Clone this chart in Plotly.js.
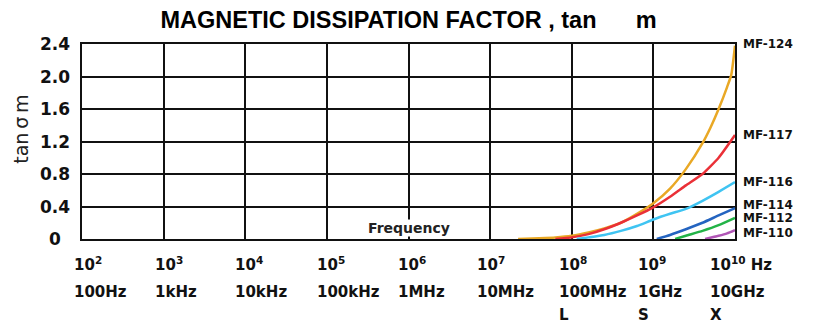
<!DOCTYPE html>
<html>
<head>
<meta charset="utf-8">
<script src="https://cdn.plot.ly/plotly-3.0.1.min.js"></script>
<style>
  html, body { margin: 0; padding: 0; background: #fff; }
  #chart { width: 813px; height: 323px; }
</style>
</head>
<body>
<div id="chart"></div>
<script>
// Material names
const materials = ['MF-124', 'MF-117', 'MF-116', 'MF-114', 'MF-112', 'MF-110'];

// Frequency (Hz) and tan δm for each material
const freqMF124 = [2.2e7, 4e7, 6.3e7, 1e8, 1.6e8, 2.5e8, 4e8, 6.3e8, 1e9, 1.6e9, 2.5e9, 4e9, 5e9, 6.3e9, 8e9, 9e9, 1e10];
const tanMF124  = [0, 0.01, 0.02, 0.04, 0.08, 0.13, 0.2, 0.31, 0.44, 0.62, 0.86, 1.18, 1.37, 1.6, 1.87, 2.02, 2.38];

const freqMF117 = [6.3e7, 1e8, 1.6e8, 2.5e8, 4e8, 6.3e8, 1e9, 1.6e9, 2.5e9, 4e9, 6.3e9, 1e10];
const tanMF117  = [0, 0.02, 0.06, 0.12, 0.2, 0.29, 0.39, 0.52, 0.66, 0.8, 1.0, 1.28];

const freqMF116 = [1.15e8, 1.6e8, 2.5e8, 4e8, 6.3e8, 1e9, 1.6e9, 2.5e9, 4e9, 6.3e9, 1e10];
const tanMF116  = [0, 0.02, 0.05, 0.1, 0.16, 0.24, 0.31, 0.37, 0.47, 0.58, 0.70];

const freqMF114 = [1.1e9, 1.6e9, 2.5e9, 4e9, 6.3e9, 1e10];
const tanMF114  = [0, 0.05, 0.12, 0.2, 0.29, 0.38];

const freqMF112 = [1.85e9, 2.5e9, 4e9, 6.3e9, 1e10];
const tanMF112  = [0, 0.04, 0.1, 0.17, 0.26];

const freqMF110 = [4.3e9, 6.3e9, 8e9, 1e10];
const tanMF110  = [0, 0.04, 0.07, 0.11];

// Axis labelling
const yTicks = [0, 0.4, 0.8, 1.2, 1.6, 2.0, 2.4];
const yTickText = ['0', '0.4', '0.8', '1.2', '1.6', '2.0', '2.4'];
const decades = [2, 3, 4, 5, 6, 7, 8, 9, 10];
const decadeText = ['10<sup>2</sup>', '10<sup>3</sup>', '10<sup>4</sup>', '10<sup>5</sup>', '10<sup>6</sup>',
                    '10<sup>7</sup>', '10<sup>8</sup>', '10<sup>9</sup>', '10<sup>10</sup> Hz'];
const unitText = ['100Hz', '1kHz', '10kHz', '100kHz', '1MHz', '10MHz', '100MHz', '1GHz', '10GHz'];
const bandText = ['', '', '', '', '', '', 'L', 'S', 'X'];

const series = [
  [freqMF124, tanMF124],
  [freqMF117, tanMF117],
  [freqMF116, tanMF116],
  [freqMF114, tanMF114],
  [freqMF112, tanMF112],
  [freqMF110, tanMF110]
];

// Styling
const colors = ['#E9A825', '#EA3037', '#3FC4F2', '#2464C0', '#22B347', '#B055B5'];
const labelY = [2.4, 1.28, 0.70, 0.42, 0.26, 0.07];
const labelShift = [-10, -11, -12, -12, -13, -15, -15, -17, -27];

const traces = series.map((s, i) => ({
  x: s[0],
  y: s[1],
  type: 'scatter',
  mode: 'lines',
  line: { color: colors[i], width: 2.5, shape: 'spline', smoothing: 0.5 },
  cliponaxis: false,
  hoverinfo: 'skip',
  showlegend: false
}));

const annotations = [];
const labelFont = { family: 'DejaVu Sans', size: 15, color: '#111', weight: 'bold' };

yTicks.forEach((v, i) => annotations.push({
  xref: 'paper', yref: 'y', x: 0, y: v, xshift: -27, xanchor: 'center', yanchor: 'middle',
  text: yTickText[i], showarrow: false,
  font: { family: 'DejaVu Sans', size: 17, color: '#111', weight: 'bold' }
}));

decades.forEach((d, i) => {
  annotations.push({
    xref: 'x', yref: 'paper', x: d, y: 0, yshift: -25, xshift: labelShift[i],
    xanchor: 'left', yanchor: 'middle', text: decadeText[i], showarrow: false, font: labelFont
  });
  annotations.push({
    xref: 'x', yref: 'paper', x: d, y: 0, yshift: -53, xshift: labelShift[i],
    xanchor: 'left', yanchor: 'middle', text: unitText[i], showarrow: false, font: labelFont
  });
  if (bandText[i]) {
    annotations.push({
      xref: 'x', yref: 'paper', x: d, y: 0, yshift: -76, xshift: labelShift[i],
      xanchor: 'left', yanchor: 'middle', text: bandText[i], showarrow: false, font: labelFont
    });
  }
});

materials.forEach((m, i) => annotations.push({
  xref: 'paper', yref: 'y', x: 1, y: labelY[i], xshift: 6, xanchor: 'left', yanchor: 'middle',
  text: m, showarrow: false,
  font: { family: 'DejaVu Sans', size: 12, color: '#111', weight: 'bold' }
}));

annotations.push({
  xref: 'x', yref: 'paper', x: 6, y: 0, yshift: 11, xanchor: 'center', yanchor: 'middle',
  text: 'Frequency', showarrow: false, bgcolor: '#fff', borderpad: 0,
  font: { family: 'DejaVu Sans', size: 14, color: '#222', weight: 'bold' }
});

annotations.push({
  xref: 'paper', yref: 'paper', x: 0, y: 0.56, xshift: -61, xanchor: 'center', yanchor: 'middle',
  text: 'tan\u2009σ\u2009m', textangle: -90, showarrow: false,
  font: { family: 'DejaVu Sans', size: 19, color: '#222' }
});

const axisCommon = {
  showgrid: true, gridcolor: '#111', gridwidth: 2,
  showline: true, linecolor: '#111', linewidth: 2, mirror: true,
  zeroline: false, showticklabels: false, ticks: '', layer: 'below traces', fixedrange: true
};

const layout = {
  width: 813, height: 323,
  margin: { l: 82, r: 78, t: 44, b: 84 },
  paper_bgcolor: '#fff', plot_bgcolor: '#fff',
  title: {
    text: 'MAGNETIC DISSIPATION FACTOR , tan\u00a0\u00a0\u00a0\u00a0\u00a0\u00a0m',
    x: 0.5, xref: 'paper', y: 0.94, yanchor: 'middle',
    font: { family: 'Liberation Sans', size: 23.5, color: '#000', weight: 'bold' }
  },
  xaxis: Object.assign({}, axisCommon, { type: 'log', range: [2, 10], dtick: 1 }),
  yaxis: Object.assign({}, axisCommon, { range: [0, 2.4], tickvals: yTicks }),
  annotations: annotations,
  showlegend: false
};

Plotly.newPlot('chart', traces, layout, { staticPlot: true, displayModeBar: false });
</script>
</body>
</html>
